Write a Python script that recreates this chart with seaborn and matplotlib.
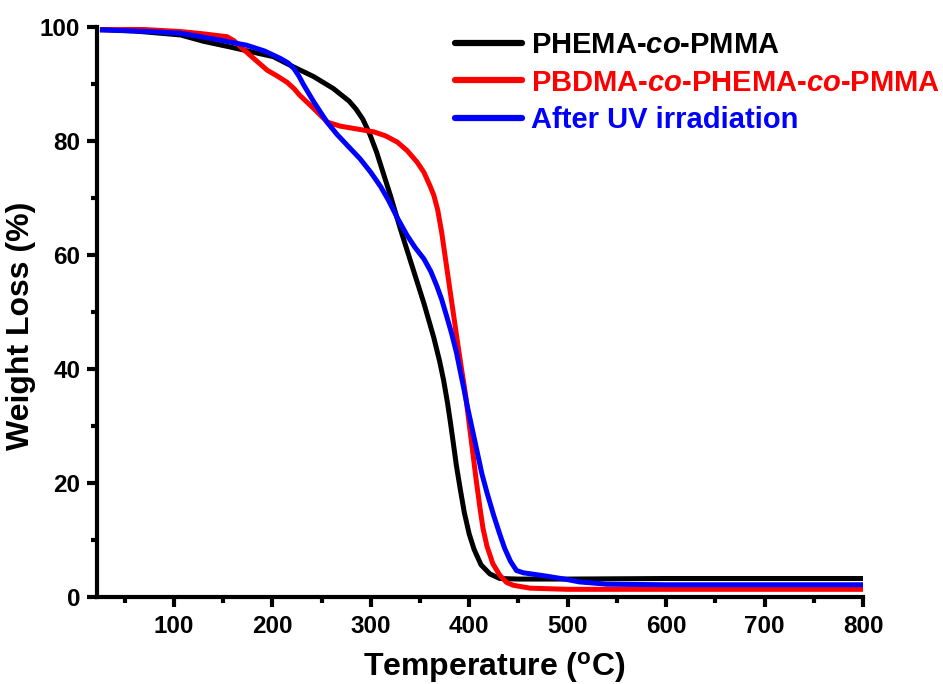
import matplotlib
matplotlib.use("Agg")
import matplotlib.pyplot as plt
import seaborn as sns
import pandas as pd
from matplotlib.ticker import MultipleLocator

# ---- data ----
labels = ["PHEMA-$\\mathit{co}$-PMMA",
          "PBDMA-$\\mathit{co}$-PHEMA-$\\mathit{co}$-PMMA",
          "After UV irradiation"]
colors = ["#000000", "#ff0000", "#0000ff"]

temp_black = [25, 60, 107, 130, 157, 180, 201, 218, 242, 262, 278, 285, 292, 299,
              306, 313, 320, 330, 343, 354, 364, 370, 374, 378, 381, 384, 387, 391,
              395, 400, 405, 412, 421, 431, 450, 500, 600, 700, 800]
wl_black = [99.6, 99.3, 98.6, 97.5, 96.5, 95.6, 94.8, 93.3, 91.3, 89.2, 87.0, 85.6,
            83.8, 81.2, 78.0, 74.2, 70.4, 64.6, 57.5, 51.5, 45.5, 41.3, 38.0, 34.0,
            30.5, 26.8, 23.0, 18.8, 14.8, 11.0, 8.3, 5.6, 4.0, 3.2, 3.1, 3.1, 3.2,
            3.2, 3.2]

temp_red = [25, 66, 107, 130, 154, 161, 168, 181, 195, 205, 215, 222, 228, 242, 256,
            269, 286, 303, 315, 327, 337, 347, 354, 360, 364, 368, 372, 377, 382, 387,
            392, 396, 400, 404, 407, 411, 414, 418, 424, 431, 438, 445, 462, 500, 600,
            700, 800]
wl_red = [99.5, 99.6, 99.2, 98.8, 98.3, 97.6, 96.5, 94.5, 92.4, 91.4, 90.3, 89.2,
          88.0, 85.7, 83.3, 82.6, 82.1, 81.6, 80.9, 79.8, 78.3, 76.3, 74.5, 72.2,
          70.5, 67.9, 64.0, 58.0, 52.0, 46.0, 40.2, 35.8, 30.3, 24.8, 20.6, 15.5,
          12.0, 8.9, 5.8, 3.8, 2.5, 2.0, 1.5, 1.3, 1.3, 1.3, 1.3]

temp_blue = [25, 76, 107, 144, 174, 192, 208, 216, 222, 227, 232, 242, 256, 266, 278,
             289, 300, 310, 318, 327, 337, 345, 354, 361, 367, 372, 377, 382, 387, 391,
             394, 398, 403, 408, 413, 418, 425, 431, 436, 442, 448, 455, 479, 500, 512,
             540, 600, 700, 800]
wl_blue = [99.5, 99.2, 98.9, 97.8, 96.8, 95.8, 94.5, 93.7, 92.7, 91.4, 89.8, 86.9,
           83.2, 81.1, 78.9, 76.9, 74.5, 72.0, 69.6, 66.5, 63.4, 61.3, 59.3, 57.1,
           54.6, 52.2, 49.3, 46.3, 42.9, 39.5, 37.0, 33.5, 29.5, 25.5, 21.5, 18.3,
           14.2, 11.0, 8.5, 6.2, 4.6, 4.2, 3.6, 3.0, 2.6, 2.2, 2.1, 2.1, 2.1]

series_t = [temp_black, temp_red, temp_blue]
series_w = [wl_black, wl_red, wl_blue]

# ---- style ----
sns.set_theme(style="ticks")
plt.rcParams["font.family"] = ["Liberation Sans", "DejaVu Sans"]
plt.rcParams["font.weight"] = "bold"
plt.rcParams["text.color"] = "black"
plt.rcParams["axes.labelcolor"] = "black"
plt.rcParams["xtick.color"] = "black"
plt.rcParams["ytick.color"] = "black"
plt.rcParams["xtick.labelcolor"] = "black"
plt.rcParams["ytick.labelcolor"] = "black"
plt.rcParams["mathtext.fontset"] = "custom"
plt.rcParams["mathtext.rm"] = "Liberation Sans:bold"
plt.rcParams["mathtext.it"] = "Liberation Sans:italic:bold"
plt.rcParams["mathtext.bf"] = "Liberation Sans:bold"

fig = plt.figure(figsize=(9.43, 6.84), dpi=100)
ax = fig.add_axes([0.1029, 0.1276, 0.8123, 0.8329])

for t, w, lab, c in zip(series_t, series_w, labels, colors):
    df = pd.DataFrame({"T": t, "W": w})
    sns.lineplot(data=df, x="T", y="W", ax=ax, color=c, linewidth=3.6,
                 label=lab, sort=False, estimator=None,
                 solid_joinstyle="round", solid_capstyle="butt")

ax.set_xlim(22, 800)
ax.set_ylim(0, 100)
ax.xaxis.set_major_locator(MultipleLocator(100))
ax.xaxis.set_minor_locator(MultipleLocator(50))
ax.yaxis.set_major_locator(MultipleLocator(20))
ax.yaxis.set_minor_locator(MultipleLocator(10))
ax.set_xticks([100, 200, 300, 400, 500, 600, 700, 800])

for s in ["top", "right"]:
    ax.spines[s].set_visible(False)
for s in ["left", "bottom"]:
    ax.spines[s].set_linewidth(3.0)
    ax.spines[s].set_color("black")

ax.tick_params(axis="both", which="major", direction="out", length=7.5, width=3,
               labelsize=17.5, color="black", labelcolor="black")
ax.tick_params(axis="x", which="major", pad=6)
ax.tick_params(axis="y", which="major", pad=4.5)
ax.tick_params(axis="both", which="minor", direction="out", length=4, width=3,
               color="black")
for lbl in ax.get_xticklabels() + ax.get_yticklabels():
    lbl.set_fontweight("bold")

ax.set_xlabel("Temperature ($\\mathregular{^{o}}$C)", fontsize=23, fontweight="bold",
              labelpad=8, color="black")
ax.xaxis.label.set_x(0.518)
ax.set_ylabel("Weight Loss (%)", fontsize=23, fontweight="bold", color="black")
ax.yaxis.set_label_coords(-0.08, 0.475)

leg = ax.legend(loc="upper left", bbox_to_anchor=(455 / 943, 1 - 31 / 684),
                bbox_transform=fig.transFigure, frameon=False,
                handlelength=2.3, handletextpad=0.3, labelspacing=0.33,
                borderpad=0, borderaxespad=0, labelcolor="linecolor",
                prop={"weight": "bold", "size": 21})
for line in leg.get_lines():
    line.set_linewidth(4.5)
    line.set_solid_capstyle("round")

fig.savefig("out.png", dpi=100)
